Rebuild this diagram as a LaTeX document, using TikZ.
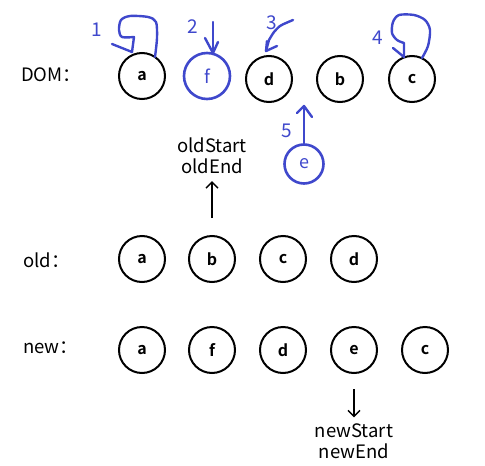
\documentclass[tikz,border=0pt]{standalone}
\usepackage{fontspec}
\setmainfont{Noto Sans CJK SC}[BoldFont={Noto Sans CJK SC Bold}]
\usetikzlibrary{arrows.meta}
\definecolor{penBlue}{HTML}{3F48CC}
\tikzset{
  elem/.style={draw, circle, line width=2pt, minimum size=46pt, inner sep=0pt,
    font=\fontsize{16}{19}\selectfont\bfseries},
  newelem/.style={draw=penBlue, text=penBlue, circle, line width=2.6pt, inner sep=0pt,
    font=\fontsize{18}{21}\selectfont},
  rowlbl/.style={anchor=west, inner sep=0pt, font=\fontsize{18.5}{22}\selectfont},
  ptr/.style={align=center, inner sep=0pt, font=\fontsize{18.5}{21}\selectfont},
  ptrarrow/.style={line width=1.4pt, -{Straight Barb[length=6pt,width=12pt]}},
  ink/.style={penBlue, line width=2.4pt, line cap=round, line join=round},
  stepno/.style={text=penBlue, inner sep=0pt, font=\fontsize{19}{22}\selectfont}
}
\begin{document}
\begin{tikzpicture}[x=1pt, y=-1pt]
  \useasboundingbox (0,0) rectangle (485,466);
  % real DOM
  \node[rowlbl] (ldom) at (21,75) {DOM：};
  \node[elem] (da) at (142,76) {a};
  \node[newelem, minimum size=46pt] (df) at (207,76) {f};
  \node[elem] (dd) at (269,79) {d};
  \node[elem] (db) at (340,79) {b};
  \node[elem] (dc) at (412,79) {c};
  \node[newelem, minimum size=39pt] (de) at (304,164) {e};
  % old vnodes
  \node[rowlbl] (lold) at (23,260) {old：};
  \node[elem] (oa) at (142,259) {a};
  \node[elem] (ob) at (212,259) {b};
  \node[elem] (oc) at (283,259) {c};
  \node[elem] (od) at (354,259) {d};
  % new vnodes
  \node[rowlbl] (lnew) at (23,348) {new：};
  \node[elem] (na) at (142,350) {a};
  \node[elem] (nf) at (212,350) {f};
  \node[elem] (nd) at (283,350) {d};
  \node[elem] (ne) at (354,350) {e};
  \node[elem] (nc) at (425,350) {c};
  % pointers
  \node[ptr] (optr) at (212,156) {oldStart\\oldEnd};
  \node[ptr] (nptr) at (354,441) {newStart\\newEnd};
  \draw[ptrarrow, shorten <=17pt, shorten >=7pt] (ob.north) -- (optr.south);
  \draw[ptrarrow, shorten <=15pt, shorten >=6pt] (ne.south) -- (nptr.north);
  % hand-drawn steps
  \node[stepno] (s1) at (97,30) {1};
  \node[stepno] (s2) at (193,27) {2};
  \node[stepno] (s3) at (272,23) {3};
  \node[stepno] (s4) at (378,38) {4};
  \node[stepno] (s5) at (287,131) {5};
  \coordinate (t1) at (132,52);
  \coordinate (t2) at (213,53);
  \coordinate (t3) at (266,51);
  \coordinate (t4) at (404,57);
  \coordinate (t5) at (304,106);
  \draw[ink] (da.50) plot[smooth] coordinates {(155,57) (157,38) (156,22) (148,17) (130,16) (121,20) (119,30) (122,37) (134,37)} -- (t1);
  \draw[ink] (112,44) -- (t1);
  \draw[ink] (213,22) -- (t2);
  \draw[ink] (205,38) -- (t2) -- (218,42);
  \draw[ink] plot[smooth] coordinates {(293,20) (286,23) (280,26) (274,32) (269,40)} -- (t3);
  \draw[ink] (267,41) -- (t3) -- (277,46);
  \draw[ink] plot[smooth] coordinates {(422,58) (428,46) (430,30) (425,20) (414,15) (399,15) (393,22) (392,33) (397,40) (404,43)} -- (t4);
  \draw[ink] (393,48) -- (t4);
  \draw[ink] (de.north) -- (t5);
  \draw[ink] (297,113) -- (t5) -- (312,117);
\end{tikzpicture}
\end{document}
